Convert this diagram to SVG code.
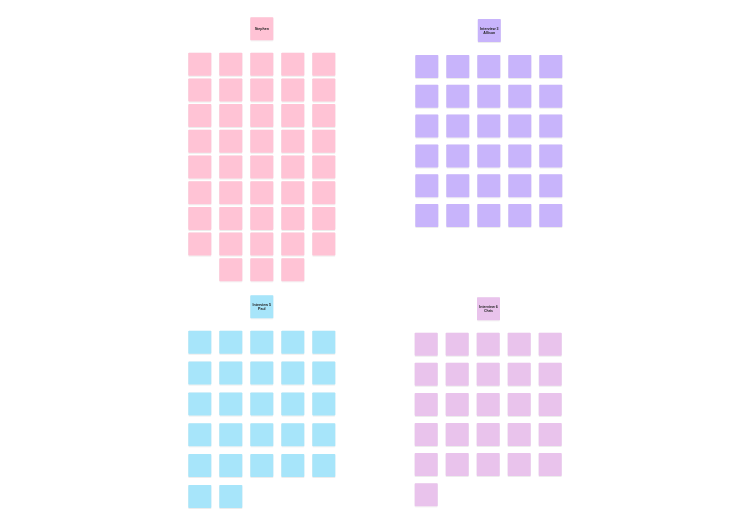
<svg xmlns="http://www.w3.org/2000/svg" xmlns:xlink="http://www.w3.org/1999/xlink" width="750" height="526" viewBox="0 0 750 526">
<style>
.pk{fill:#FFC3D5}
.vi{fill:#C8B4FB}
.bl{fill:#A7E5FA}
.lv{fill:#E9C3EC}
.t{font-family:"Liberation Sans",Arial,sans-serif;font-size:3.6px;font-weight:700;fill:#222;text-anchor:middle}
</style>
<defs>
<filter id="sh" x="-10%" y="-10%" width="130%" height="130%">
<feDropShadow dx="0" dy="0.5" stdDeviation="0.4" flood-color="#000" flood-opacity="0.15"/>
</filter>
<rect id="n" width="23" height="23" rx="0.8"/>
</defs>
<rect width="750" height="526" fill="#ffffff"/>
<g id="connectors"></g>
<g filter="url(#sh)">
<!-- Stephen cluster -->
<g id="title-stephen"><use href="#n" x="250.3" y="17.3" class="pk"/><text class="t" x="261.8" y="30">Stephen</text></g>
<g id="pk-r0"><use href="#n" x="188.3" y="52.7" class="pk"/><use href="#n" x="219.3" y="52.7" class="pk"/><use href="#n" x="250.3" y="52.7" class="pk"/><use href="#n" x="281.3" y="52.7" class="pk"/><use href="#n" x="312.3" y="52.7" class="pk"/></g>
<g id="pk-r1"><use href="#n" x="188.3" y="78.4" class="pk"/><use href="#n" x="219.3" y="78.4" class="pk"/><use href="#n" x="250.3" y="78.4" class="pk"/><use href="#n" x="281.3" y="78.4" class="pk"/><use href="#n" x="312.3" y="78.4" class="pk"/></g>
<g id="pk-r2"><use href="#n" x="188.3" y="104.1" class="pk"/><use href="#n" x="219.3" y="104.1" class="pk"/><use href="#n" x="250.3" y="104.1" class="pk"/><use href="#n" x="281.3" y="104.1" class="pk"/><use href="#n" x="312.3" y="104.1" class="pk"/></g>
<g id="pk-r3"><use href="#n" x="188.3" y="129.8" class="pk"/><use href="#n" x="219.3" y="129.8" class="pk"/><use href="#n" x="250.3" y="129.8" class="pk"/><use href="#n" x="281.3" y="129.8" class="pk"/><use href="#n" x="312.3" y="129.8" class="pk"/></g>
<g id="pk-r4"><use href="#n" x="188.3" y="155.5" class="pk"/><use href="#n" x="219.3" y="155.5" class="pk"/><use href="#n" x="250.3" y="155.5" class="pk"/><use href="#n" x="281.3" y="155.5" class="pk"/><use href="#n" x="312.3" y="155.5" class="pk"/></g>
<g id="pk-r5"><use href="#n" x="188.3" y="181.2" class="pk"/><use href="#n" x="219.3" y="181.2" class="pk"/><use href="#n" x="250.3" y="181.2" class="pk"/><use href="#n" x="281.3" y="181.2" class="pk"/><use href="#n" x="312.3" y="181.2" class="pk"/></g>
<g id="pk-r6"><use href="#n" x="188.3" y="206.9" class="pk"/><use href="#n" x="219.3" y="206.9" class="pk"/><use href="#n" x="250.3" y="206.9" class="pk"/><use href="#n" x="281.3" y="206.9" class="pk"/><use href="#n" x="312.3" y="206.9" class="pk"/></g>
<g id="pk-r7"><use href="#n" x="188.3" y="232.6" class="pk"/><use href="#n" x="219.3" y="232.6" class="pk"/><use href="#n" x="250.3" y="232.6" class="pk"/><use href="#n" x="281.3" y="232.6" class="pk"/><use href="#n" x="312.3" y="232.6" class="pk"/></g>
<g id="pk-r8"><use href="#n" x="219.3" y="258.3" class="pk"/><use href="#n" x="250.3" y="258.3" class="pk"/><use href="#n" x="281.3" y="258.3" class="pk"/></g>
<!-- Allison cluster -->
<g id="title-allison"><use href="#n" x="477.8" y="19" class="vi"/><text class="t" x="489.3" y="29.6">Interview 3</text><text class="t" x="489.3" y="34">Allison</text></g>
<g id="vi-r0"><use href="#n" x="415.3" y="55" class="vi"/><use href="#n" x="446.3" y="55" class="vi"/><use href="#n" x="477.3" y="55" class="vi"/><use href="#n" x="508.3" y="55" class="vi"/><use href="#n" x="539.3" y="55" class="vi"/></g>
<g id="vi-r1"><use href="#n" x="415.3" y="84.8" class="vi"/><use href="#n" x="446.3" y="84.8" class="vi"/><use href="#n" x="477.3" y="84.8" class="vi"/><use href="#n" x="508.3" y="84.8" class="vi"/><use href="#n" x="539.3" y="84.8" class="vi"/></g>
<g id="vi-r2"><use href="#n" x="415.3" y="114.6" class="vi"/><use href="#n" x="446.3" y="114.6" class="vi"/><use href="#n" x="477.3" y="114.6" class="vi"/><use href="#n" x="508.3" y="114.6" class="vi"/><use href="#n" x="539.3" y="114.6" class="vi"/></g>
<g id="vi-r3"><use href="#n" x="415.3" y="144.4" class="vi"/><use href="#n" x="446.3" y="144.4" class="vi"/><use href="#n" x="477.3" y="144.4" class="vi"/><use href="#n" x="508.3" y="144.4" class="vi"/><use href="#n" x="539.3" y="144.4" class="vi"/></g>
<g id="vi-r4"><use href="#n" x="415.3" y="174.2" class="vi"/><use href="#n" x="446.3" y="174.2" class="vi"/><use href="#n" x="477.3" y="174.2" class="vi"/><use href="#n" x="508.3" y="174.2" class="vi"/><use href="#n" x="539.3" y="174.2" class="vi"/></g>
<g id="vi-r5"><use href="#n" x="415.3" y="204" class="vi"/><use href="#n" x="446.3" y="204" class="vi"/><use href="#n" x="477.3" y="204" class="vi"/><use href="#n" x="508.3" y="204" class="vi"/><use href="#n" x="539.3" y="204" class="vi"/></g>
<!-- Paul cluster -->
<g id="title-paul"><use href="#n" x="250.3" y="295.3" class="bl"/><text class="t" x="261.8" y="305.9">Interview 5</text><text class="t" x="261.8" y="310.3" font-weight="400">Paul</text></g>
<g id="bl-r0"><use href="#n" x="188.3" y="330.7" class="bl"/><use href="#n" x="219.3" y="330.7" class="bl"/><use href="#n" x="250.3" y="330.7" class="bl"/><use href="#n" x="281.3" y="330.7" class="bl"/><use href="#n" x="312.3" y="330.7" class="bl"/></g>
<g id="bl-r1"><use href="#n" x="188.3" y="361.6" class="bl"/><use href="#n" x="219.3" y="361.6" class="bl"/><use href="#n" x="250.3" y="361.6" class="bl"/><use href="#n" x="281.3" y="361.6" class="bl"/><use href="#n" x="312.3" y="361.6" class="bl"/></g>
<g id="bl-r2"><use href="#n" x="188.3" y="392.4" class="bl"/><use href="#n" x="219.3" y="392.4" class="bl"/><use href="#n" x="250.3" y="392.4" class="bl"/><use href="#n" x="281.3" y="392.4" class="bl"/><use href="#n" x="312.3" y="392.4" class="bl"/></g>
<g id="bl-r3"><use href="#n" x="188.3" y="423.3" class="bl"/><use href="#n" x="219.3" y="423.3" class="bl"/><use href="#n" x="250.3" y="423.3" class="bl"/><use href="#n" x="281.3" y="423.3" class="bl"/><use href="#n" x="312.3" y="423.3" class="bl"/></g>
<g id="bl-r4"><use href="#n" x="188.3" y="454.1" class="bl"/><use href="#n" x="219.3" y="454.1" class="bl"/><use href="#n" x="250.3" y="454.1" class="bl"/><use href="#n" x="281.3" y="454.1" class="bl"/><use href="#n" x="312.3" y="454.1" class="bl"/></g>
<g id="bl-r5"><use href="#n" x="188.3" y="485" class="bl"/><use href="#n" x="219.3" y="485" class="bl"/></g>
<!-- Chris cluster -->
<g id="title-chris"><use href="#n" x="477" y="297.3" class="lv"/><text class="t" x="488.5" y="307.9">Interview 6</text><text class="t" x="488.5" y="312.3" font-weight="400">Chris</text></g>
<g id="lv-r0"><use href="#n" x="414.7" y="332.7" class="lv"/><use href="#n" x="445.7" y="332.7" class="lv"/><use href="#n" x="476.7" y="332.7" class="lv"/><use href="#n" x="507.7" y="332.7" class="lv"/><use href="#n" x="538.7" y="332.7" class="lv"/></g>
<g id="lv-r1"><use href="#n" x="414.7" y="362.8" class="lv"/><use href="#n" x="445.7" y="362.8" class="lv"/><use href="#n" x="476.7" y="362.8" class="lv"/><use href="#n" x="507.7" y="362.8" class="lv"/><use href="#n" x="538.7" y="362.8" class="lv"/></g>
<g id="lv-r2"><use href="#n" x="414.7" y="392.9" class="lv"/><use href="#n" x="445.7" y="392.9" class="lv"/><use href="#n" x="476.7" y="392.9" class="lv"/><use href="#n" x="507.7" y="392.9" class="lv"/><use href="#n" x="538.7" y="392.9" class="lv"/></g>
<g id="lv-r3"><use href="#n" x="414.7" y="423" class="lv"/><use href="#n" x="445.7" y="423" class="lv"/><use href="#n" x="476.7" y="423" class="lv"/><use href="#n" x="507.7" y="423" class="lv"/><use href="#n" x="538.7" y="423" class="lv"/></g>
<g id="lv-r4"><use href="#n" x="414.7" y="453.1" class="lv"/><use href="#n" x="445.7" y="453.1" class="lv"/><use href="#n" x="476.7" y="453.1" class="lv"/><use href="#n" x="507.7" y="453.1" class="lv"/><use href="#n" x="538.7" y="453.1" class="lv"/></g>
<g id="lv-r5"><use href="#n" x="414.7" y="483.2" class="lv"/></g>
</g>
</svg>
